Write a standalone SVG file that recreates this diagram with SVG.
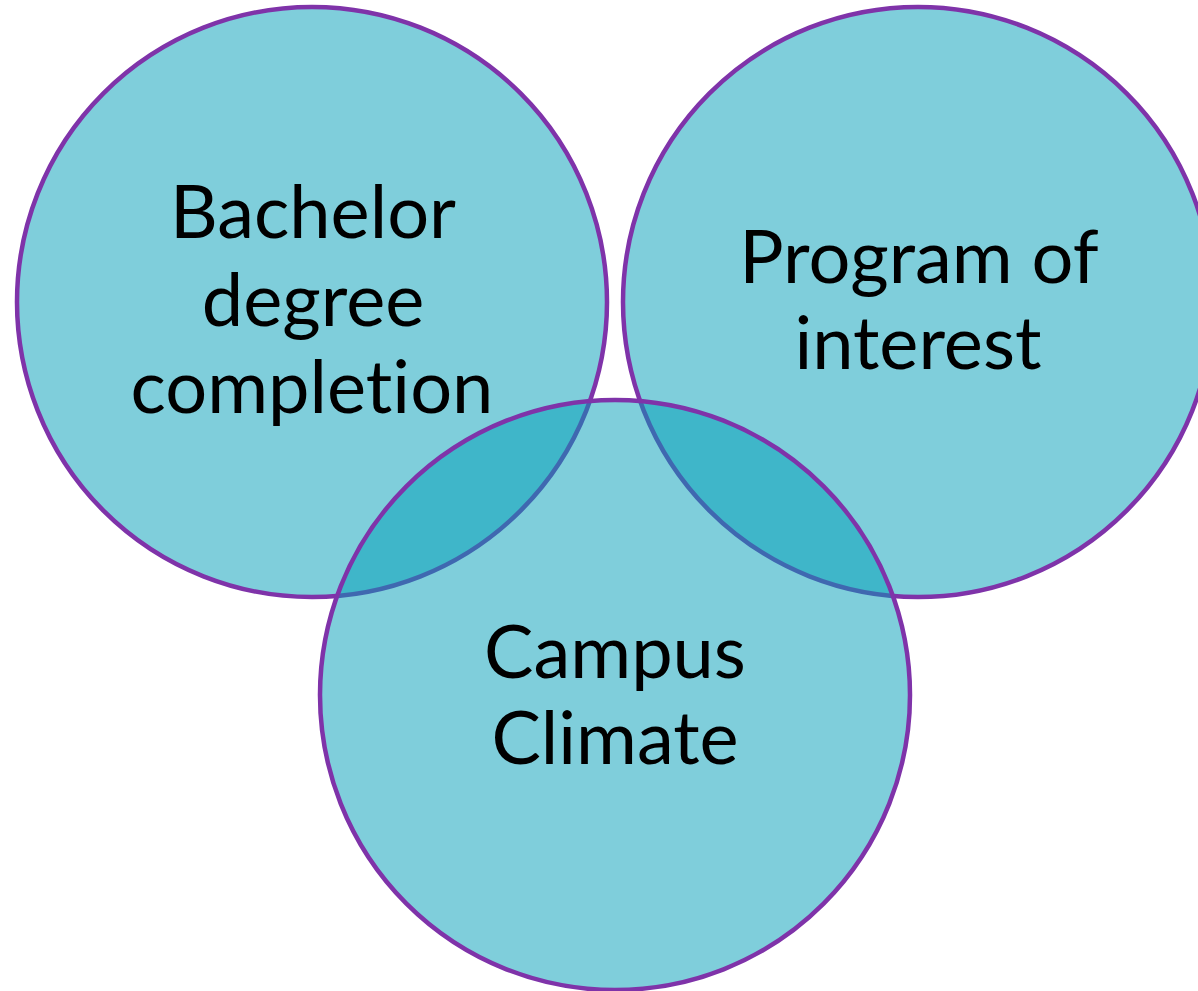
<svg xmlns="http://www.w3.org/2000/svg" width="1198" height="991" viewBox="0 0 1198 991">
  <style>
    .ring { fill: rgb(0,157,183); fill-opacity: 0.5; stroke: #7F33A9; stroke-width: 4.5; }
    .label { font-family: Lato, "Open Sans", sans-serif; font-size: 74px; fill: #000; text-anchor: middle; font-variant-ligatures: none; }
  </style>
  <rect width="1198" height="991" fill="#fff"/>
  <g id="bachelor">
    <circle class="ring" cx="312" cy="302" r="295"/>
    <text class="label" x="313" y="238">Bachelor</text>
    <text class="label" x="313" y="326">degree</text>
    <text class="label" x="312" y="413">completion</text>
  </g>
  <g id="program">
    <circle class="ring" cx="918" cy="302" r="295"/>
    <text class="label" x="919" y="283">Program of</text>
    <text class="label" x="918" y="369">interest</text>
  </g>
  <g id="climate">
    <circle class="ring" cx="615" cy="695" r="295"/>
    <text class="label" x="615" y="678">Campus</text>
    <text class="label" x="615" y="764">Climate</text>
  </g>
  <g id="connectors"/>
</svg>
